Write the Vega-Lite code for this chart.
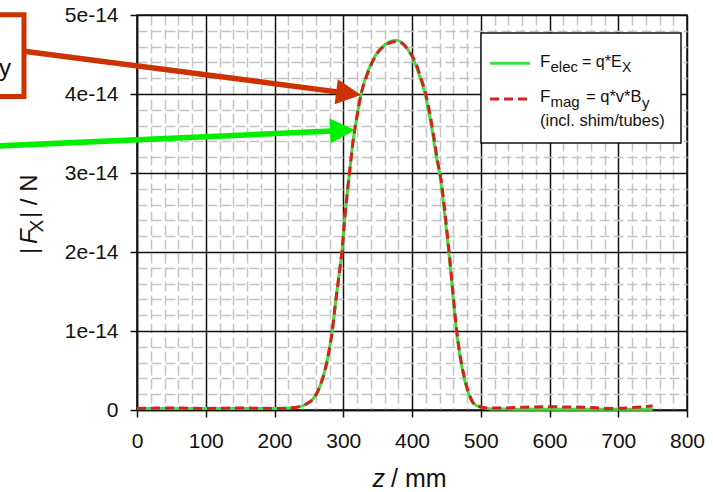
{
  "$schema": "https://vega.github.io/schema/vega-lite/v6.json",
  "width": 550,
  "height": 395,
  "autosize": {"type": "none"},
  "padding": {"left": 137, "top": 15, "right": 26, "bottom": 82},
  "background": "white",
  "config": {
    "view": {"stroke": "#111", "strokeWidth": 1.5},
    "font": "Liberation Sans",
    "text": {"font": "Liberation Sans", "color": "#111"}
  },
  "datasets": {
    "curves": [
      {"z": 0, "F": 2e-16, "series": "elec"},
      {"z": 50, "F": 2e-16, "series": "elec"},
      {"z": 100, "F": 2e-16, "series": "elec"},
      {"z": 150, "F": 2e-16, "series": "elec"},
      {"z": 200, "F": 2e-16, "series": "elec"},
      {"z": 220, "F": 2.5e-16, "series": "elec"},
      {"z": 235, "F": 4e-16, "series": "elec"},
      {"z": 245, "F": 7e-16, "series": "elec"},
      {"z": 255, "F": 1.3e-15, "series": "elec"},
      {"z": 262, "F": 2.2e-15, "series": "elec"},
      {"z": 270, "F": 4e-15, "series": "elec"},
      {"z": 276, "F": 6e-15, "series": "elec"},
      {"z": 280, "F": 7.8e-15, "series": "elec"},
      {"z": 284, "F": 1.0e-14, "series": "elec"},
      {"z": 288, "F": 1.3e-14, "series": "elec"},
      {"z": 293, "F": 1.65e-14, "series": "elec"},
      {"z": 298, "F": 2.0e-14, "series": "elec"},
      {"z": 303, "F": 2.5e-14, "series": "elec"},
      {"z": 309, "F": 3.0e-14, "series": "elec"},
      {"z": 315, "F": 3.45e-14, "series": "elec"},
      {"z": 320, "F": 3.72e-14, "series": "elec"},
      {"z": 326, "F": 4.0e-14, "series": "elec"},
      {"z": 333, "F": 4.22e-14, "series": "elec"},
      {"z": 340, "F": 4.37e-14, "series": "elec"},
      {"z": 350, "F": 4.53e-14, "series": "elec"},
      {"z": 360, "F": 4.62e-14, "series": "elec"},
      {"z": 370, "F": 4.67e-14, "series": "elec"},
      {"z": 377, "F": 4.68e-14, "series": "elec"},
      {"z": 385, "F": 4.65e-14, "series": "elec"},
      {"z": 395, "F": 4.55e-14, "series": "elec"},
      {"z": 405, "F": 4.38e-14, "series": "elec"},
      {"z": 412, "F": 4.2e-14, "series": "elec"},
      {"z": 419, "F": 4.0e-14, "series": "elec"},
      {"z": 425, "F": 3.75e-14, "series": "elec"},
      {"z": 430, "F": 3.5e-14, "series": "elec"},
      {"z": 436, "F": 3.18e-14, "series": "elec"},
      {"z": 441, "F": 2.95e-14, "series": "elec"},
      {"z": 447, "F": 2.52e-14, "series": "elec"},
      {"z": 453.5, "F": 2.0e-14, "series": "elec"},
      {"z": 459, "F": 1.5e-14, "series": "elec"},
      {"z": 464, "F": 1.05e-14, "series": "elec"},
      {"z": 469, "F": 7.2e-15, "series": "elec"},
      {"z": 474, "F": 4.8e-15, "series": "elec"},
      {"z": 479, "F": 3e-15, "series": "elec"},
      {"z": 484, "F": 1.7e-15, "series": "elec"},
      {"z": 490, "F": 8e-16, "series": "elec"},
      {"z": 500, "F": 3.5e-16, "series": "elec"},
      {"z": 510, "F": 2e-16, "series": "elec"},
      {"z": 520, "F": 1.2e-16, "series": "elec"},
      {"z": 600, "F": 1e-16, "series": "elec"},
      {"z": 700, "F": 1e-16, "series": "elec"},
      {"z": 750, "F": 1e-16, "series": "elec"},
      {"z": 0, "F": 2e-16, "series": "mag"},
      {"z": 50, "F": 2.5e-16, "series": "mag"},
      {"z": 100, "F": 2e-16, "series": "mag"},
      {"z": 150, "F": 2.5e-16, "series": "mag"},
      {"z": 200, "F": 2e-16, "series": "mag"},
      {"z": 220, "F": 2.5e-16, "series": "mag"},
      {"z": 235, "F": 4e-16, "series": "mag"},
      {"z": 245, "F": 7e-16, "series": "mag"},
      {"z": 255, "F": 1.3e-15, "series": "mag"},
      {"z": 262, "F": 2.2e-15, "series": "mag"},
      {"z": 270, "F": 4e-15, "series": "mag"},
      {"z": 276, "F": 6e-15, "series": "mag"},
      {"z": 280, "F": 7.8e-15, "series": "mag"},
      {"z": 284, "F": 1.0e-14, "series": "mag"},
      {"z": 288, "F": 1.3e-14, "series": "mag"},
      {"z": 293, "F": 1.65e-14, "series": "mag"},
      {"z": 298, "F": 2.0e-14, "series": "mag"},
      {"z": 303, "F": 2.5e-14, "series": "mag"},
      {"z": 309, "F": 3.0e-14, "series": "mag"},
      {"z": 315, "F": 3.45e-14, "series": "mag"},
      {"z": 320, "F": 3.72e-14, "series": "mag"},
      {"z": 326, "F": 4.0e-14, "series": "mag"},
      {"z": 333, "F": 4.2e-14, "series": "mag"},
      {"z": 340, "F": 4.36e-14, "series": "mag"},
      {"z": 350, "F": 4.52e-14, "series": "mag"},
      {"z": 360, "F": 4.61e-14, "series": "mag"},
      {"z": 370, "F": 4.655e-14, "series": "mag"},
      {"z": 378, "F": 4.665e-14, "series": "mag"},
      {"z": 386, "F": 4.64e-14, "series": "mag"},
      {"z": 396, "F": 4.54e-14, "series": "mag"},
      {"z": 406, "F": 4.38e-14, "series": "mag"},
      {"z": 413, "F": 4.2e-14, "series": "mag"},
      {"z": 420, "F": 4.0e-14, "series": "mag"},
      {"z": 426, "F": 3.75e-14, "series": "mag"},
      {"z": 431, "F": 3.5e-14, "series": "mag"},
      {"z": 437, "F": 3.16e-14, "series": "mag"},
      {"z": 442, "F": 2.93e-14, "series": "mag"},
      {"z": 448, "F": 2.5e-14, "series": "mag"},
      {"z": 454, "F": 2.0e-14, "series": "mag"},
      {"z": 459.5, "F": 1.5e-14, "series": "mag"},
      {"z": 464.5, "F": 1.05e-14, "series": "mag"},
      {"z": 469.5, "F": 7.2e-15, "series": "mag"},
      {"z": 474.5, "F": 4.8e-15, "series": "mag"},
      {"z": 479.5, "F": 3e-15, "series": "mag"},
      {"z": 484.5, "F": 1.7e-15, "series": "mag"},
      {"z": 490, "F": 8e-16, "series": "mag"},
      {"z": 500, "F": 4e-16, "series": "mag"},
      {"z": 510, "F": 2.5e-16, "series": "mag"},
      {"z": 530, "F": 2.5e-16, "series": "mag"},
      {"z": 560, "F": 3.5e-16, "series": "mag"},
      {"z": 600, "F": 4e-16, "series": "mag"},
      {"z": 650, "F": 3.5e-16, "series": "mag"},
      {"z": 690, "F": 2e-16, "series": "mag"},
      {"z": 720, "F": 3e-16, "series": "mag"},
      {"z": 750, "F": 5e-16, "series": "mag"}
    ]
  },
  "resolve": {"axis": {"x": "independent", "y": "independent"}},
  "layer": [
    {
      "data": {"name": "curves"},
      "transform": [{"filter": "datum.series == 'elec'"}],
      "mark": {"type": "line", "color": "#3ee03e", "strokeWidth": 3, "interpolate": "monotone"},
      "encoding": {
        "x": {"field": "z", "type": "quantitative", "scale": {"domain": [0, 800], "nice": false},
          "axis": {"orient": "bottom", "values": [20,40,60,80,120,140,160,180,220,240,260,280,320,340,360,380,420,440,460,480,520,540,560,580,620,640,660,680,720,740,760,780],
            "grid": true, "gridColor": "#c4c4c4", "gridWidth": 1.5, "gridDash": [10, 4], "domain": false, "ticks": false, "labels": false, "title": null}},
        "y": {"field": "F", "type": "quantitative", "scale": {"domain": [0, 5e-14], "nice": false, "zero": true},
          "axis": {"orient": "left", "values": [2e-15,4e-15,6e-15,8e-15,1.2e-14,1.4e-14,1.6e-14,1.8e-14,2.2e-14,2.4e-14,2.6e-14,2.8e-14,3.2e-14,3.4e-14,3.6e-14,3.8e-14,4.2e-14,4.4e-14,4.6e-14,4.8e-14],
            "grid": true, "gridColor": "#c4c4c4", "gridWidth": 1.5, "gridDash": [10, 4], "domain": false, "ticks": false, "labels": false, "title": null}}
      }
    },
    {
      "data": {"name": "curves"},
      "transform": [{"filter": "datum.series == 'mag'"}],
      "mark": {"type": "line", "color": "#d91e1e", "strokeWidth": 3, "strokeDash": [9, 5], "interpolate": "monotone"},
      "encoding": {
        "x": {"field": "z", "type": "quantitative", "scale": {"domain": [0, 800], "nice": false},
          "axis": {"orient": "bottom", "values": [0,100,200,300,400,500,600,700,800], "grid": true, "gridColor": "#111", "gridWidth": 1.5,
            "domainColor": "#111", "domainWidth": 1.5, "tickColor": "#111", "tickWidth": 1.5, "tickSize": 7,
            "labelFont": "Liberation Sans", "labelFontSize": 21, "labelColor": "#111", "labelPadding": 13, "labelFlush": false, "labelOverlap": false, "title": null}},
        "y": {"field": "F", "type": "quantitative", "scale": {"domain": [0, 5e-14], "nice": false, "zero": true},
          "axis": {"orient": "left", "values": [0,1e-14,2e-14,3e-14,4e-14,5e-14], "grid": true, "gridColor": "#111", "gridWidth": 1.5,
            "domainColor": "#111", "domainWidth": 1.5, "tickColor": "#111", "tickWidth": 1.5, "tickSize": 7,
            "labelFont": "Liberation Sans", "labelFontSize": 21, "labelColor": "#111", "labelPadding": 12, "labelFlush": false, "labelOverlap": false,
            "labelExpr": "datum.value == 0 ? '0' : round(datum.value * 1e14) + 'e-14'", "title": null}}
      }
    },
    {
      "data": {"values": [{}]},
      "mark": {"type": "rect", "fill": "white", "stroke": "#111", "strokeWidth": 1.5},
      "encoding": {
        "x": {"datum": 500.36, "type": "quantitative", "axis": null},
        "x2": {"datum": 791.27},
        "y": {"datum": 4.772e-14, "type": "quantitative", "axis": null},
        "y2": {"datum": 3.380e-14}
      }
    },
    {
      "data": {"values": [{}]},
      "mark": {"type": "rule", "color": "#3ee03e", "strokeWidth": 3},
      "encoding": {
        "x": {"datum": 513.45, "type": "quantitative", "axis": null},
        "x2": {"datum": 571.64},
        "y": {"datum": 4.389e-14, "type": "quantitative", "axis": null}
      }
    },
    {
      "data": {"values": [{}]},
      "mark": {"type": "rule", "color": "#d91e1e", "strokeWidth": 3, "strokeDash": [9, 5]},
      "encoding": {
        "x": {"datum": 513.45, "type": "quantitative", "axis": null},
        "x2": {"datum": 571.64},
        "y": {"datum": 3.937e-14, "type": "quantitative", "axis": null}
      }
    },
    {
      "data": {"values": [{}]},
      "mark": {"type": "text", "text": "F", "fontSize": 17, "align": "left", "baseline": "alphabetic"},
      "encoding": {"x": {"datum": 586.2, "type": "quantitative", "axis": null}, "y": {"datum": 4.346e-14, "type": "quantitative", "axis": null}}
    },
    {
      "data": {"values": [{}]},
      "mark": {"type": "text", "text": "elec", "fontSize": 15, "align": "left", "baseline": "alphabetic"},
      "encoding": {"x": {"datum": 601.5, "type": "quantitative", "axis": null}, "y": {"datum": 4.282e-14, "type": "quantitative", "axis": null}}
    },
    {
      "data": {"values": [{}]},
      "mark": {"type": "text", "text": "= q*E", "fontSize": 16, "align": "left", "baseline": "alphabetic"},
      "encoding": {"x": {"datum": 647.3, "type": "quantitative", "axis": null}, "y": {"datum": 4.346e-14, "type": "quantitative", "axis": null}}
    },
    {
      "data": {"values": [{}]},
      "mark": {"type": "text", "text": "X", "fontSize": 14, "align": "left", "baseline": "alphabetic"},
      "encoding": {"x": {"datum": 705.5, "type": "quantitative", "axis": null}, "y": {"datum": 4.278e-14, "type": "quantitative", "axis": null}}
    },
    {
      "data": {"values": [{}]},
      "mark": {"type": "text", "text": "F", "fontSize": 17, "align": "left", "baseline": "alphabetic"},
      "encoding": {"x": {"datum": 586.2, "type": "quantitative", "axis": null}, "y": {"datum": 3.903e-14, "type": "quantitative", "axis": null}}
    },
    {
      "data": {"values": [{}]},
      "mark": {"type": "text", "text": "mag", "fontSize": 15, "align": "left", "baseline": "alphabetic"},
      "encoding": {"x": {"datum": 601.5, "type": "quantitative", "axis": null}, "y": {"datum": 3.835e-14, "type": "quantitative", "axis": null}}
    },
    {
      "data": {"values": [{}]},
      "mark": {"type": "text", "text": "= q*v*B", "fontSize": 16.5, "align": "left", "baseline": "alphabetic"},
      "encoding": {"x": {"datum": 653.1, "type": "quantitative", "axis": null}, "y": {"datum": 3.903e-14, "type": "quantitative", "axis": null}}
    },
    {
      "data": {"values": [{}]},
      "mark": {"type": "text", "text": "y", "fontSize": 15, "align": "left", "baseline": "alphabetic"},
      "encoding": {"x": {"datum": 734.5, "type": "quantitative", "axis": null}, "y": {"datum": 3.823e-14, "type": "quantitative", "axis": null}}
    },
    {
      "data": {"values": [{}]},
      "mark": {"type": "text", "text": "(incl. shim/tubes)", "fontSize": 16.5, "align": "left", "baseline": "alphabetic"},
      "encoding": {"x": {"datum": 586.2, "type": "quantitative", "axis": null}, "y": {"datum": 3.599e-14, "type": "quantitative", "axis": null}}
    },
    {
      "data": {"values": [{}]},
      "mark": {"type": "text", "text": "z", "fontSize": 25, "fontStyle": "italic", "align": "left", "baseline": "alphabetic"},
      "encoding": {"x": {"datum": 342.5, "type": "quantitative", "axis": null}, "y": {"datum": -0.971e-14, "type": "quantitative", "axis": null}}
    },
    {
      "data": {"values": [{}]},
      "mark": {"type": "text", "text": "/ mm", "fontSize": 25, "align": "left", "baseline": "alphabetic"},
      "encoding": {"x": {"datum": 369.5, "type": "quantitative", "axis": null}, "y": {"datum": -0.971e-14, "type": "quantitative", "axis": null}}
    },
    {
      "data": {"values": [{}]},
      "mark": {"type": "text", "text": "|", "fontSize": 24, "angle": 270, "align": "left", "baseline": "alphabetic"},
      "encoding": {"x": {"datum": -145.9, "type": "quantitative", "axis": null}, "y": {"datum": 1.975e-14, "type": "quantitative", "axis": null}}
    },
    {
      "data": {"values": [{}]},
      "mark": {"type": "text", "text": "F", "fontSize": 24, "fontStyle": "italic", "angle": 270, "align": "left", "baseline": "alphabetic"},
      "encoding": {"x": {"datum": -145.9, "type": "quantitative", "axis": null}, "y": {"datum": 2.101e-14, "type": "quantitative", "axis": null}}
    },
    {
      "data": {"values": [{}]},
      "mark": {"type": "text", "text": "X", "fontSize": 19, "angle": 270, "align": "left", "baseline": "alphabetic"},
      "encoding": {"x": {"datum": -136.3, "type": "quantitative", "axis": null}, "y": {"datum": 2.247e-14, "type": "quantitative", "axis": null}}
    },
    {
      "data": {"values": [{}]},
      "mark": {"type": "text", "text": "| / N", "fontSize": 24, "angle": 270, "align": "left", "baseline": "alphabetic"},
      "encoding": {"x": {"datum": -145.9, "type": "quantitative", "axis": null}, "y": {"datum": 2.430e-14, "type": "quantitative", "axis": null}}
    },
    {
      "data": {"values": [{}]},
      "mark": {"type": "rect", "fill": "white", "stroke": "#cc3300", "strokeWidth": 5},
      "encoding": {
        "x": {"datum": -272.7, "type": "quantitative", "axis": null},
        "x2": {"datum": -164.4},
        "y": {"datum": 5.004e-14, "type": "quantitative", "axis": null},
        "y2": {"datum": 3.968e-14}
      }
    },
    {
      "data": {"values": [{}]},
      "mark": {"type": "text", "text": "y", "fontSize": 24, "align": "right", "baseline": "alphabetic"},
      "encoding": {"x": {"datum": -183.3, "type": "quantitative", "axis": null}, "y": {"datum": 4.234e-14, "type": "quantitative", "axis": null}}
    },
    {
      "data": {"values": [{}]},
      "mark": {"type": "rule", "color": "#cc3300", "strokeWidth": 5.5},
      "encoding": {
        "x": {"datum": -164.4, "type": "quantitative", "axis": null},
        "x2": {"datum": 307.8},
        "y": {"datum": 4.542e-14, "type": "quantitative", "axis": null},
        "y2": {"datum": 4.008e-14}
      }
    },
    {
      "data": {"values": [{}]},
      "mark": {"type": "point", "shape": "M 1 0 L -1 -1 L -1 1 Z", "size": 625, "filled": true, "color": "#cc3300", "opacity": 1, "angle": 7.4},
      "encoding": {"x": {"datum": 307.8, "type": "quantitative", "axis": null}, "y": {"datum": 4.008e-14, "type": "quantitative", "axis": null}}
    },
    {
      "data": {"values": [{}]},
      "mark": {"type": "rule", "color": "#00f000", "strokeWidth": 5.5},
      "encoding": {
        "x": {"datum": -228.4, "type": "quantitative", "axis": null},
        "x2": {"datum": 298.9},
        "y": {"datum": 3.332e-14, "type": "quantitative", "axis": null},
        "y2": {"datum": 3.538e-14}
      }
    },
    {
      "data": {"values": [{}]},
      "mark": {"type": "point", "shape": "M 1 0 L -1 -1 L -1 1 Z", "size": 625, "filled": true, "color": "#00f000", "opacity": 1, "angle": -2.56},
      "encoding": {"x": {"datum": 298.9, "type": "quantitative", "axis": null}, "y": {"datum": 3.538e-14, "type": "quantitative", "axis": null}}
    }
  ]
}
